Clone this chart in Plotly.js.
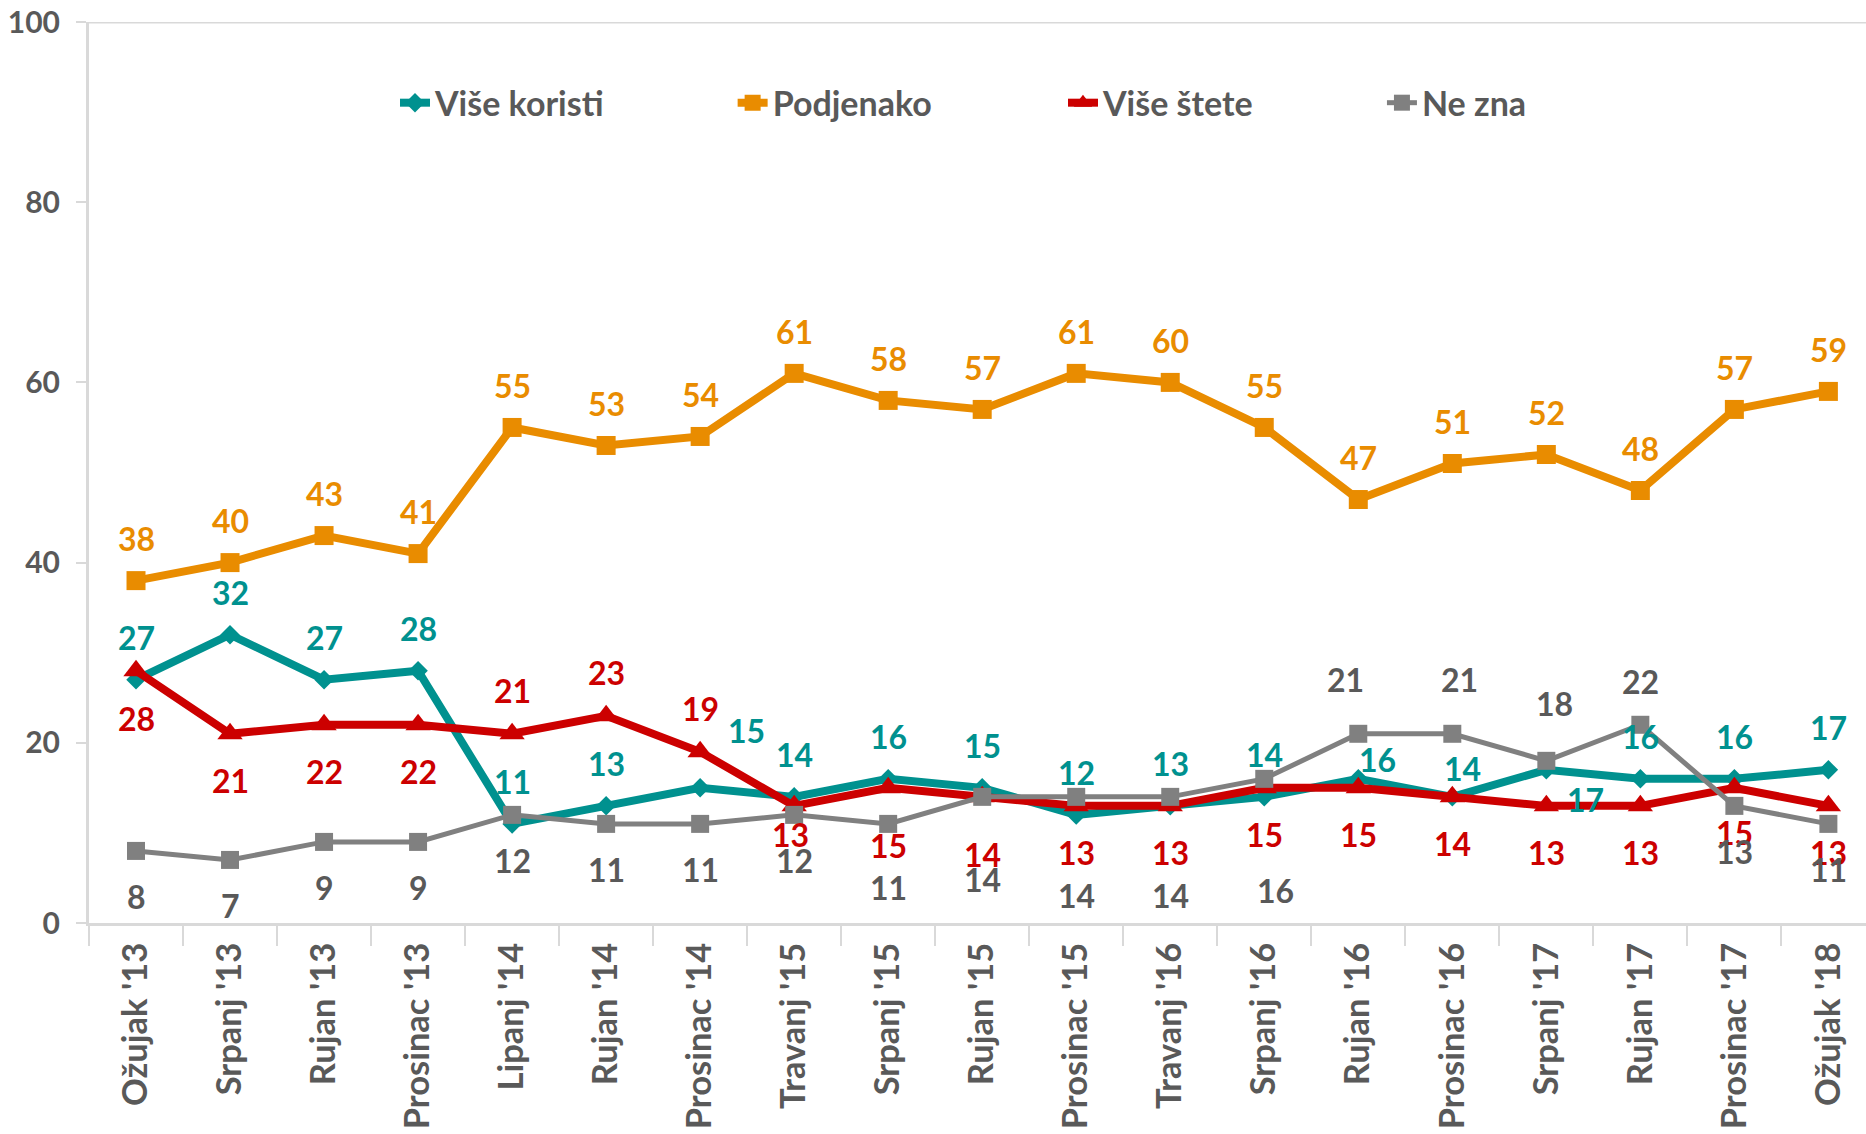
<!DOCTYPE html>
<html>
<head>
<meta charset="utf-8">
<script src="https://cdn.plot.ly/plotly-3.0.1.min.js"></script>
<style>html,body{margin:0;padding:0;background:#fff;}#chart{width:1866px;height:1134px;}</style>
</head>
<body>
<div id="chart"></div>
<script>
// ---- data ----
const categories = ["Ožujak '13","Srpanj '13","Rujan '13","Prosinac '13","Lipanj '14","Rujan '14","Prosinac '14","Travanj '15","Srpanj '15","Rujan '15","Prosinac '15","Travanj '16","Srpanj '16","Rujan '16","Prosinac '16","Srpanj '17","Rujan '17","Prosinac '17","Ožujak '18"];
const viseKoristi = [27,32,27,28,11,13,15,14,16,15,12,13,14,16,14,17,16,16,17];
const podjenako   = [38,40,43,41,55,53,54,61,58,57,61,60,55,47,51,52,48,57,59];
const viseStete   = [28,21,22,22,21,23,19,13,15,14,13,13,15,15,14,13,13,15,13];
const neZna       = [8,7,9,9,12,11,11,12,11,14,14,14,16,21,21,18,22,13,11];
const yTicks = [0,20,40,60,80,100];

// ---- label placement (pixel offsets, styling only) ----
const n = categories.length;
const fill = v => Array(n).fill(v);
const tealDx = fill(0), tealDy = fill(-42);
tealDx[6]=46; tealDy[6]=-57;
tealDx[13]=19; tealDy[13]=-19;
tealDx[14]=10; tealDy[14]=-28;
tealDx[15]=39; tealDy[15]=30;
const orDx = fill(0), orDy = fill(-42);
const redDx = fill(0), redDy = fill(47);
redDy[0]=48; redDy[4]=-43; redDy[5]=-43; redDy[6]=-43;
redDx[7]=-4; redDy[7]=29; redDy[8]=58; redDy[9]=58; redDy[17]=45;
const grDx = fill(0), grDy = fill(46);
grDy[8]=64; grDy[9]=83; grDy[10]=99; grDy[11]=99;
grDx[12]=11; grDy[12]=112;
grDx[13]=-13; grDy[13]=-54;
grDx[14]=7; grDy[14]=-54;
grDx[15]=8; grDy[15]=-57;
grDy[16]=-43;

const TEAL = '#00918F', ORANGE = '#E98C00', RED = '#CC0000', GRAY = '#808080', TXT = '#595959', AX = '#D9D9D9';
const FONT = 'Lato, "Open Sans", sans-serif';

const traces = [
  {name:'Više koristi', x:categories, y:viseKoristi, type:'scatter', mode:'lines+markers',
   line:{color:TEAL,width:8}, marker:{symbol:'diamond',size:15,color:TEAL}, legend:'legend'},
  {name:'Podjenako', x:categories, y:podjenako, type:'scatter', mode:'lines+markers',
   line:{color:ORANGE,width:8}, marker:{symbol:'square',size:19,color:ORANGE}, legend:'legend2'},
  {name:'Više štete', x:categories, y:viseStete, type:'scatter', mode:'lines+markers',
   line:{color:RED,width:8}, marker:{symbol:'triangle-up',size:22,color:RED}, legend:'legend3'},
  {name:'Ne zna', x:categories, y:neZna, type:'scatter', mode:'lines+markers',
   line:{color:GRAY,width:5}, marker:{symbol:'square',size:18,color:GRAY}, legend:'legend4'}
];

const annotations = [];
function addLabels(vals, dx, dy, color){
  vals.forEach((v,i)=>{
    annotations.push({x:categories[i], y:v, xref:'x', yref:'y', text:String(v), showarrow:false,
      xshift:dx[i], yshift:-dy[i], font:{family:FONT,size:32,color:color,weight:700}});
  });
}
addLabels(viseKoristi, tealDx, tealDy, TEAL);
addLabels(podjenako, orDx, orDy, ORANGE);
addLabels(viseStete, redDx, redDy, RED);
addLabels(neZna, grDx, grDy, TXT);

const legFont = {family:FONT,size:34,color:TXT,weight:700};
function leg(x){ return {x:x, y:0.91, xanchor:'left', yanchor:'middle', orientation:'h', font:legFont, bgcolor:'rgba(0,0,0,0)'}; }

const layout = {
  width:1866, height:1134,
  margin:{l:89, r:0, t:22, b:211, pad:0},
  paper_bgcolor:'#fff', plot_bgcolor:'#fff',
  showlegend:true,
  legend:leg(0.1722), legend2:leg(0.3622), legend3:leg(0.5481), legend4:leg(0.7276),
  xaxis:{type:'category', range:[-0.5,18.4], tickson:'boundaries', ticks:'outside', ticklen:20, tickwidth:2, tickcolor:AX,
    showline:true, linecolor:AX, linewidth:3, showgrid:false, zeroline:false, tickangle:-90, ticklabelstandoff:3,
    tickfont:{family:FONT,size:34.5,color:TXT,weight:700}, fixedrange:true},
  yaxis:{range:[0,100], tickvals:yTicks, ticks:'outside', ticklen:10, tickwidth:2, tickcolor:AX,
    showline:true, linecolor:AX, linewidth:3, showgrid:false, zeroline:false, ticklabelstandoff:10,
    tickfont:{family:FONT,size:30,color:TXT,weight:700}, fixedrange:true},
  shapes:[{type:'line', xref:'paper', yref:'y', x0:0, x1:1, y0:100, y1:100, line:{color:AX,width:3}, layer:'below'}],
  annotations:annotations
};

Plotly.newPlot('chart', traces, layout, {displayModeBar:false, staticPlot:true});
</script>
</body>
</html>
